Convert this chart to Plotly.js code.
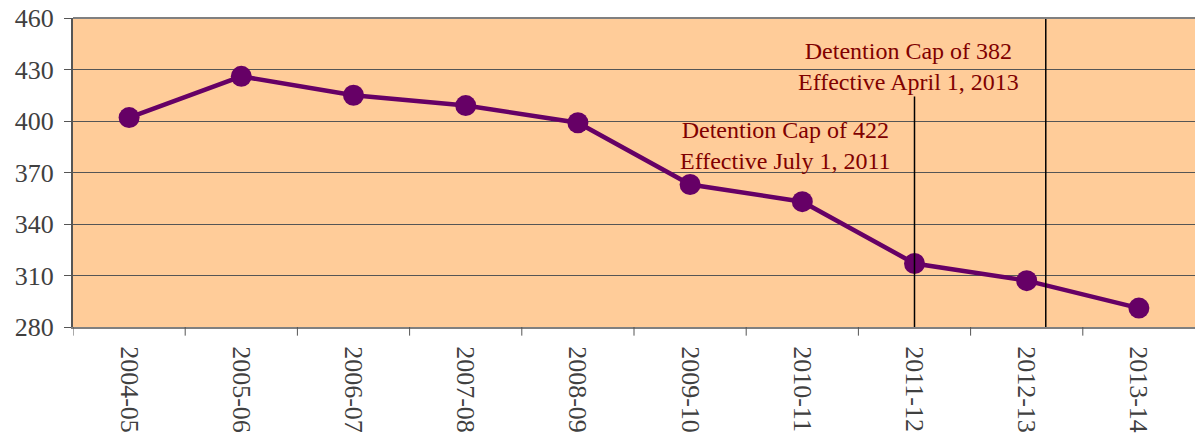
<!DOCTYPE html>
<html><head><meta charset="utf-8">
<script src="https://cdn.plot.ly/plotly-3.0.1.min.js"></script>
<style>html,body{margin:0;padding:0;background:#fff}#c{width:1195px;height:436px}</style>
</head><body><div id="c"></div>
<script>
const categories = ["2004-05","2005-06","2006-07","2007-08","2008-09","2009-10","2010-11","2011-12","2012-13","2013-14"];
const values = [402, 426, 415, 409, 399, 363, 353, 317, 307, 291];
const yTicks = [280, 310, 340, 370, 400, 430, 460];
const capLabels = ["Detention Cap of 422<br>Effective July 1, 2011", "Detention Cap of 382<br>Effective April 1, 2013"];
const SERIF = 'Liberation Serif';

const trace = {
  x: categories.map((c,i)=>i), y: values, type: 'scatter', mode: 'lines+markers',
  line: {color: '#660066', width: 4.5},
  marker: {color: '#660066', size: 21},
  hoverinfo: 'skip', showlegend: false
};

const layout = {
  width: 1195, height: 436,
  margin: {l: 73, r: 0, t: 18, b: 109},
  paper_bgcolor: '#ffffff', plot_bgcolor: '#FFCC99',
  font: {family: SERIF, color: '#404040', size: 26},
  xaxis: {
    range: [-0.5, 9.5], tickmode: 'array', tickvals: categories.map((c,i)=>i), ticktext: categories,
    tickangle: 90, tickfont: {family: SERIF, size: 26, color: '#404040'},
    showgrid: false, zeroline: false, showline: true, linecolor: '#808080', linewidth: 2,
    ticks: 'outside', ticklen: 12, tickcolor: 'rgba(0,0,0,0)', fixedrange: true
  },
  yaxis: {
    range: [280, 460], tickmode: 'array', tickvals: yTicks, ticktext: yTicks.map(String),
    tickfont: {family: SERIF, size: 26, color: '#404040'}, ticklabelstandoff: 5,
    showgrid: true, gridcolor: '#555555', gridwidth: 1, zeroline: false,
    showline: true, linecolor: '#555555', linewidth: 2,
    ticks: 'outside', ticklen: 7, tickcolor: '#555555', tickwidth: 1, fixedrange: true
  },
  shapes: [
    {type: 'line', xref: 'x', yref: 'paper', x0: 7, x1: 7, y0: 0, y1: 0.746, line: {color: '#000', width: 1.5}},
    {type: 'line', xref: 'x', yref: 'paper', x0: 8.17, x1: 8.17, y0: 0, y1: 0.997, line: {color: '#000', width: 1.5}},
    {type: 'line', xref: 'paper', yref: 'paper', x0: 0, x1: 1, y0: 1, y1: 1, line: {color: '#808080', width: 2}}
  ].concat(categories.map((c,i)=>({type:'line', xref:'x', yref:'paper', x0:i-0.5, x1:i-0.5, y0:0, y1:-0.028, line:{color:'#555555', width:1}}))),
  annotations: [
    {text: capLabels[0], xref: 'x', yref: 'y', x: 5.85, y: 385.5, showarrow: false,
     font: {family: SERIF, size: 24, color: '#800000'}, align: 'center', yanchor: 'middle'},
    {text: capLabels[1], xref: 'x', yref: 'y', x: 6.95, y: 431.5, showarrow: false,
     font: {family: SERIF, size: 24, color: '#800000'}, align: 'center', yanchor: 'middle'}
  ]
};
Plotly.newPlot('c', [trace], layout, {staticPlot: true, displayModeBar: false});
</script></body></html>
